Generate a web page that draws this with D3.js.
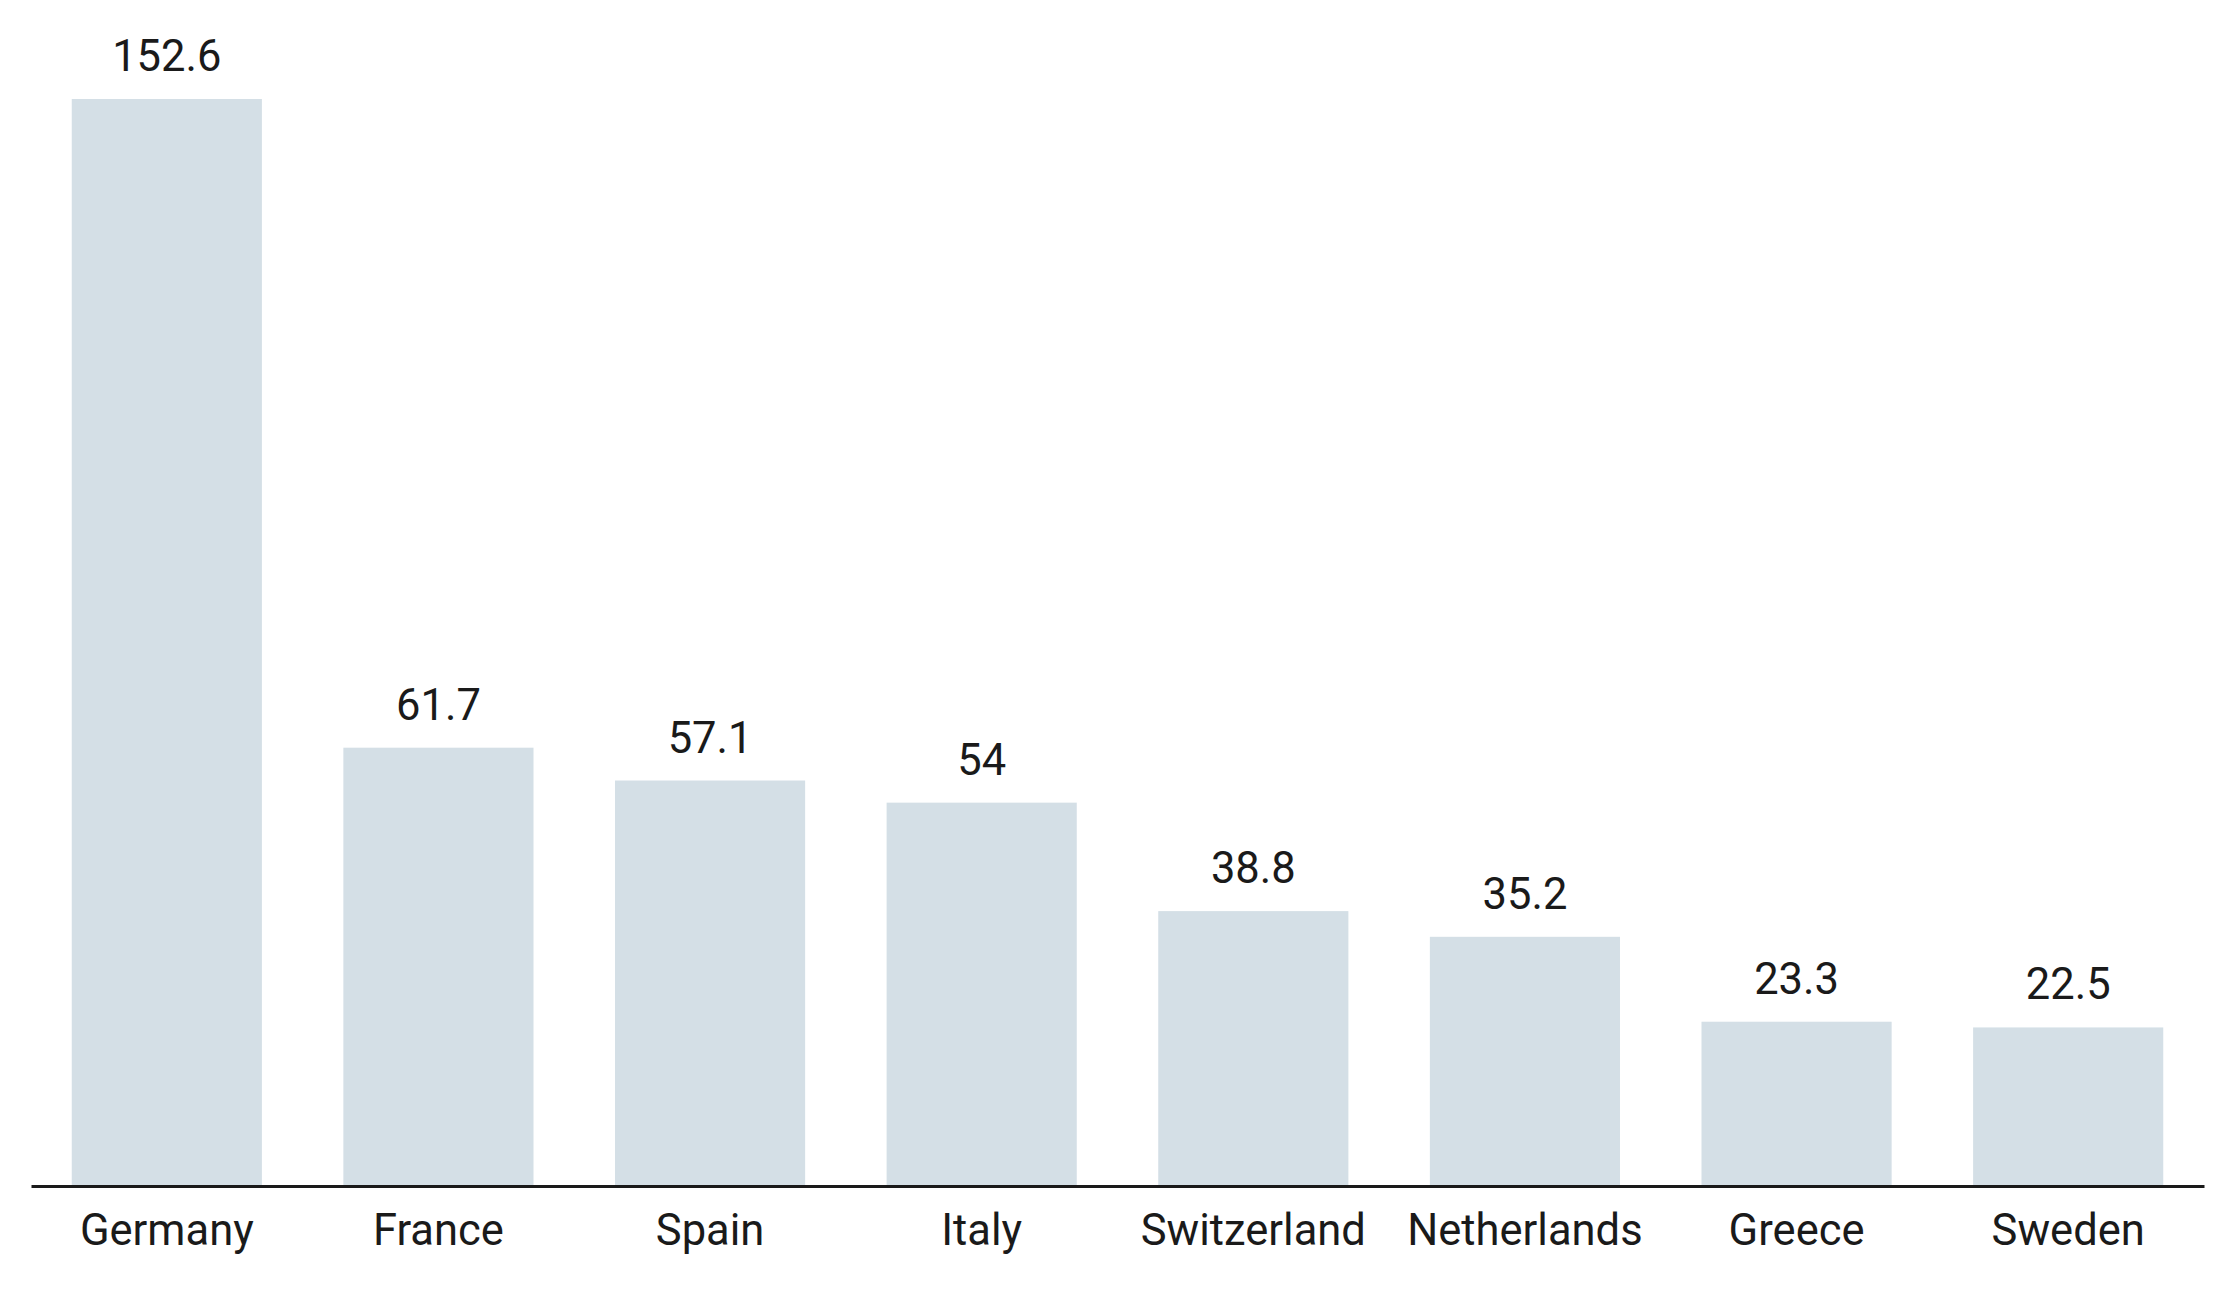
<!DOCTYPE html>
<html>
<head>
<meta charset="utf-8">
<script src="https://cdn.jsdelivr.net/npm/d3@7"></script>
<style>
html,body{margin:0;padding:0;background:#fff;}
svg{display:block;}
</style>
</head>
<body>
<script>
const countries = ["Germany","France","Spain","Italy","Switzerland","Netherlands","Greece","Sweden"];
const values = [152.6, 61.7, 57.1, 54, 38.8, 35.2, 23.3, 22.5];

const W = 2234, H = 1316;
const svg = d3.select("body").append("svg").attr("width", W).attr("height", H);

const x = d3.scaleBand().domain(countries).range([31, 2204]).paddingInner(0.3).paddingOuter(0.15);
const y = d3.scaleLinear().domain([0, 152.6]).range([1188, 99]);

svg.selectAll("rect.bar").data(countries).join("rect")
  .attr("class","bar")
  .attr("x", d => x(d))
  .attr("width", x.bandwidth())
  .attr("y", (d,i) => y(values[i]))
  .attr("height", (d,i) => y(0) - y(values[i]))
  .attr("fill", "#d4dfe6");

svg.selectAll("text.val").data(countries).join("text")
  .attr("class","val")
  .attr("x", d => x(d) + x.bandwidth()/2)
  .attr("y", (d,i) => y(values[i]) - 28)
  .attr("text-anchor","middle")
  .attr("font-family","Roboto, sans-serif")
  .attr("font-size", 43.5)
  .attr("fill","#1a1a1a")
  .text((d,i) => values[i]);

const axis = d3.axisBottom(x).tickSize(0).tickPadding(0);
const g = svg.append("g").attr("transform","translate(0,1186)").call(axis);
g.select(".domain").attr("stroke","#1a1a1a").attr("stroke-width",3);
g.selectAll(".tick text")
  .attr("font-family","Roboto, sans-serif")
  .attr("font-size", 43.5)
  .attr("fill","#1a1a1a")
  .attr("dy", null)
  .attr("y", 59);
</script>
</body>
</html>
